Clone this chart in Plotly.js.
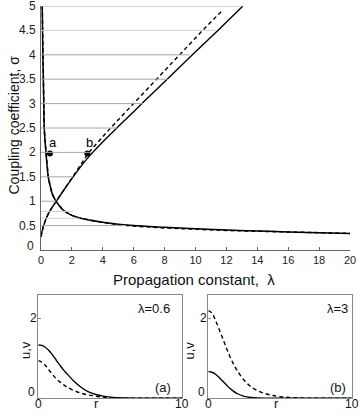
<!DOCTYPE html>
<html>
<head>
<meta charset="utf-8">
<script src="https://cdn.plot.ly/plotly-3.0.1.min.js"></script>
<style>
  html, body { margin: 0; padding: 0; background: #fff; }
  #chart { width: 359px; height: 417px; }
</style>
</head>
<body>
<div id="chart"></div>
<script>
// ---- main plot: coupling coefficient vs propagation constant ----
// rising branch (solid) and its dashed companion
var riseLam = [0, 0.05, 0.15, 0.3, 0.5, 0.75, 1.0, 1.5, 2.2, 2.8, 3.35, 4.2, 5.0, 6.6, 8.2, 9.8, 11.45, 13.07];
var riseSig = [0.27, 0.36, 0.48, 0.62, 0.76, 0.89, 1.0, 1.24, 1.55, 1.8, 2.0, 2.28, 2.53, 3.02, 3.51, 4.0, 4.5, 5.0];
var riseDashLam = [0, 0.05, 0.15, 0.3, 0.5, 0.75, 1.0, 1.5, 2.2, 3.1, 4.5, 6.0, 7.5, 9.0, 10.4, 11.8];
var riseDashSig = [0.27, 0.36, 0.48, 0.62, 0.76, 0.89, 1.0, 1.24, 1.57, 2.0, 2.5, 3.0, 3.5, 4.02, 4.48, 4.93];

// falling branch (solid) and dashed companion
var fallLam = [0.08, 0.1, 0.12, 0.15, 0.18, 0.21, 0.26, 0.32, 0.4, 0.47, 0.6, 0.75, 0.97, 1.2, 1.4, 1.7, 2.0, 2.5, 3.0, 4.0, 5.0, 6.0, 8.0, 10, 12, 14, 16, 18, 20];
var fallSig = [5.0, 4.5, 4.0, 3.5, 3.0, 2.5, 2.25, 2.0, 1.7, 1.5, 1.3, 1.13, 1.0, 0.9, 0.83, 0.76, 0.71, 0.655, 0.62, 0.57, 0.53, 0.5, 0.465, 0.435, 0.41, 0.39, 0.37, 0.355, 0.34];
var fallDashSig = [5.0, 4.5, 4.0, 3.5, 3.0, 2.5, 2.25, 2.0, 1.7, 1.5, 1.3, 1.13, 1.0, 0.9, 0.83, 0.76, 0.71, 0.655, 0.62, 0.565, 0.52, 0.49, 0.452, 0.422, 0.4, 0.385, 0.368, 0.354, 0.34];

// marked points a and b
var ptLam = [0.58, 3.0];
var ptSig = [1.98, 1.98];
var ptNames = ["a", "b"];

// horizontal guide lines: level and where they stop
var gridLevels = [0.5, 1, 1.5, 2, 2.5, 3, 3.5, 4, 5];
var gridEnds = [5.5, 1.0, 2.05, 3.3, 4.95, 6.6, 8.2, 9.6, 13.07];
var lightLevels = [0.65, 0.79, 4.5];
var lightEnds = [2.5, 2.07, 11.3];

// main axis tick labels
var lamTicks = [0, 2, 4, 6, 8, 10, 12, 14, 16, 18, 20];
var sigTicks = [0, 0.5, 1, 1.5, 2, 2.5, 3, 3.5, 4, 4.5, 5];

// ---- lower panels: profiles u,v vs r ----
var r = [0, 0.25, 0.5, 0.75, 1, 1.25, 1.5, 1.75, 2, 2.5, 3, 3.5, 4, 4.5, 5, 6, 7, 8, 9, 10];
var uA = [1.33, 1.32, 1.27, 1.19, 1.08, 0.95, 0.83, 0.71, 0.61, 0.42, 0.27, 0.16, 0.095, 0.055, 0.03, 0.01, 0.004, 0.001, 0, 0];
var vA = [0.94, 0.9, 0.82, 0.7, 0.59, 0.49, 0.41, 0.34, 0.28, 0.19, 0.125, 0.08, 0.05, 0.03, 0.015, 0.005, 0.001, 0, 0, 0];
var uB = [0.67, 0.65, 0.6, 0.52, 0.43, 0.34, 0.25, 0.18, 0.12, 0.05, 0.02, 0.008, 0.003, 0.001, 0, 0, 0, 0, 0, 0];
var vB = [2.19, 2.13, 1.95, 1.73, 1.5, 1.27, 1.05, 0.86, 0.7, 0.45, 0.28, 0.18, 0.115, 0.07, 0.04, 0.012, 0.004, 0.001, 0, 0];
var rTicks = [0, 10];
var uvTicks = [0, 2];

var W = 359, H = 417;
function px(x) { return x / W; }
function py(y) { return 1 - y / H; }

// pixel rows of the plot frames, used to place the value labels
var mainTop = 6, mainBot = 250, panTop = 295, panBot = 398.3;
function mainY(s) { return py(mainBot - s / 5 * (mainBot - mainTop)); }
function panY(v) { return py(panBot - v / 2.58 * (panBot - panTop)); }

var font = "Liberation Sans, Arial, sans-serif";
var blk = "#000";

// guide lines as shapes
var shapes = [];
function guides(levels, ends, color) {
  for (var i = 0; i < levels.length; i++) {
    shapes.push({type: "line", xref: "x", yref: "y", x0: 0, x1: ends[i], y0: levels[i], y1: levels[i],
      layer: "above", line: {color: color, width: 1}});
  }
}
guides(gridLevels, gridEnds, "#a6a6a6");
guides(lightLevels, lightEnds, "#cfcfcf");

var data = [
  {type: "scatter", x: fallLam, y: fallDashSig, mode: "lines", line: {color: blk, width: 1.5, dash: "4px,3px"}, xaxis: "x", yaxis: "y"},
  {type: "scatter", x: fallLam, y: fallSig, mode: "lines", line: {color: blk, width: 1.5, shape: "spline"}, xaxis: "x", yaxis: "y"},
  {type: "scatter", x: riseDashLam, y: riseDashSig, mode: "lines", line: {color: blk, width: 1.4, dash: "4px,3px"}, xaxis: "x", yaxis: "y"},
  {type: "scatter", x: riseLam, y: riseSig, mode: "lines", line: {color: blk, width: 1.4, shape: "spline"}, xaxis: "x", yaxis: "y"},
  {type: "scatter", x: ptLam, y: ptSig, mode: "markers", marker: {color: blk, size: 6}, xaxis: "x", yaxis: "y"},

  {type: "scatter", x: r, y: uA, mode: "lines", line: {color: blk, width: 1.4, shape: "spline"}, xaxis: "x2", yaxis: "y2"},
  {type: "scatter", x: r, y: vA, mode: "lines", line: {color: blk, width: 1.4, dash: "4px,3px", shape: "spline"}, xaxis: "x2", yaxis: "y2"},
  {type: "scatter", x: r, y: uB, mode: "lines", line: {color: blk, width: 1.4, shape: "spline"}, xaxis: "x3", yaxis: "y3"},
  {type: "scatter", x: r, y: vB, mode: "lines", line: {color: blk, width: 1.4, dash: "4px,3px", shape: "spline"}, xaxis: "x3", yaxis: "y3"}
];

function panelX(d0, d1, anchor) {
  return {domain: [px(d0), px(d1)], range: [0, 10], anchor: anchor, showgrid: false, zeroline: false,
    showline: true, mirror: true, linecolor: "#888", linewidth: 1, ticks: "inside", ticklen: 3, tickcolor: "#888",
    tickmode: "array", tickvals: rTicks, showticklabels: false, automargin: false, fixedrange: true};
}
function panelY(anchor) {
  return {domain: [py(panBot), py(panTop)], range: [0, 2.58], anchor: anchor, showgrid: false, zeroline: false,
    showline: true, mirror: true, linecolor: "#888", linewidth: 1, ticks: "inside", ticklen: 3, tickcolor: "#888",
    tickmode: "array", tickvals: uvTicks, showticklabels: false, automargin: false, fixedrange: true};
}

var ann = [];
function label(text, x, y, xr, yr, opts) {
  var a = {x: x, y: y, xref: xr, yref: yr, text: text, showarrow: false,
    xanchor: "center", yanchor: "middle", font: {family: font, size: 13, color: "#111"}};
  for (var k in (opts || {})) a[k] = opts[k];
  ann.push(a);
}
for (var i = 0; i < ptNames.length; i++) {
  label(ptNames[i], ptLam[i] + 0.17, ptSig[i] + 0.23, "x", "y", {font: {family: font, size: 13, color: blk}});
}
// sigma tick labels of the main plot; the zero is nudged up-left, clear of the corner
sigTicks.forEach(function (s) {
  var yy = mainY(s) + (s === 0 ? 4 / H : 0);
  var xx = s === 0 ? px(35) : px(36.5);
  label(String(s), xx, yy, "paper", "paper", {xanchor: "right", borderpad: 0, font: {family: font, size: 12, color: "#222"}});
});
// tick labels of the two lower panels
rTicks.forEach(function (t) {
  label(String(t), t / 10, py(404), "x2 domain", "paper", {font: {family: font, size: 12, color: "#111"}});
  label(String(t), t / 10, py(404), "x3 domain", "paper", {font: {family: font, size: 12, color: "#111"}});
});
uvTicks.forEach(function (t) {
  var yy = panY(t) + (t === 0 ? 6 / H : 0);
  var xa = t === 0 ? 31 : 33, xb = t === 0 ? 201 : 203;
  label(String(t), px(xa), yy, "paper", "paper", {borderpad: 0, font: {family: font, size: 12, color: "#111"}});
  label(String(t), px(xb), yy, "paper", "paper", {borderpad: 0, font: {family: font, size: 12, color: "#111"}});
});
function note(text, x, y, opts) { label(text, px(x), py(y), "paper", "paper", opts); }
note("Propagation constant,\u00a0\u00a0\u03bb", 194, 279, {font: {family: font, size: 15, color: "#111"}});
note("Coupling coefficient, \u03c3", 13.5, 125, {textangle: -90, font: {family: font, size: 14, color: "#111"}});
note("u,v", 25, 350, {textangle: -90});
note("u,v", 188.5, 350, {textangle: -90});
note("r", 97, 403);
note("r", 276.7, 403);
note("\u03bb=0.6", 172, 308, {xanchor: "right"});
note("(a)", 173, 387, {xanchor: "right"});
note("\u03bb=3", 350, 308, {xanchor: "right"});
note("(b)", 348, 387, {xanchor: "right"});

var layout = {
  width: W, height: H,
  margin: {l: 0, r: 0, t: 0, b: 0, pad: 0},
  paper_bgcolor: "#fff", plot_bgcolor: "rgba(255,255,255,0)",
  showlegend: false,
  font: {family: font, color: "#111"},
  xaxis: {domain: [px(41), px(350)], range: [0, 20], anchor: "y", showgrid: false, zeroline: false,
    tickmode: "array", tickvals: lamTicks, ticktext: lamTicks.map(String), automargin: false, ticklabeloverflow: "allow",
    showline: true, linecolor: "#666", linewidth: 1, ticks: "inside", ticklen: 3, tickcolor: "#666",
    tickfont: {family: font, size: 11, color: "#222"}, fixedrange: true},
  yaxis: {domain: [py(mainBot), py(mainTop)], range: [0, 5], anchor: "x", showgrid: false, zeroline: false,
    showticklabels: false, ticks: "", automargin: false,
    showline: true, linecolor: "#666", linewidth: 1, fixedrange: true},
  xaxis2: panelX(38.3, 182, "y2"),
  yaxis2: panelY("x2"),
  xaxis3: panelX(208.3, 351.7, "y3"),
  yaxis3: panelY("x3"),
  shapes: shapes,
  annotations: ann
};

Plotly.newPlot("chart", data, layout, {displayModeBar: false});
</script>
</body>
</html>
